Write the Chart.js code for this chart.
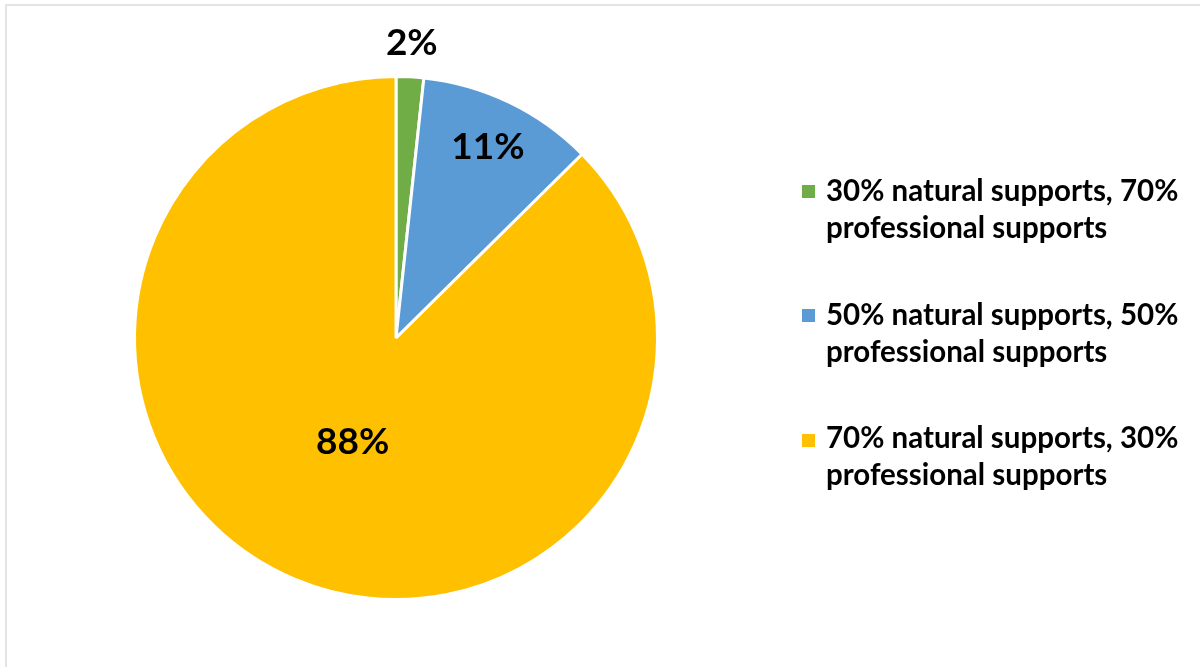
<!DOCTYPE html>
<html>
<head>
<meta charset="utf-8">
<script src="https://cdn.jsdelivr.net/npm/chart.js@4/dist/chart.umd.min.js"></script>
<style>
  html, body { margin: 0; padding: 0; background: #fff; }
  #wrap { position: relative; width: 1200px; height: 667px; overflow: hidden; }
  #frame { position: absolute; left: 5px; top: 4px; width: 1210px; height: 700px; border: 2px solid #e4e4e4; box-sizing: border-box; }
  #c { position: absolute; left: 0; top: 0; }
  .leg { position: absolute; left: 826px; font-family: Lato, "Open Sans", sans-serif; font-weight: 700; font-size: 29.5px; line-height: 37px; color: #000; white-space: nowrap; }
  .sw { position: absolute; left: 802px; width: 13px; height: 13px; }
</style>
</head>
<body>
<div id="wrap">
  <div id="frame"></div>
  <canvas id="c" width="1200" height="667"></canvas>
  <div id="legend"></div>
</div>
<script>
const categories = [
  "30% natural supports, 70% professional supports",
  "50% natural supports, 50% professional supports",
  "70% natural supports, 30% professional supports"
];
const legendLines = [
  ["30% natural supports, 70%", "professional supports"],
  ["50% natural supports, 50%", "professional supports"],
  ["70% natural supports, 30%", "professional supports"]
];
const values = [1.7, 10.9, 87.4];
const valueLabels = ["2%", "11%", "88%"];
const colors = ["#70AD47", "#5B9BD5", "#FFC000"];
const labelRadius = [1.13, 0.81, 0.43];

// HTML legend
const legendTops = [171, 295, 418];
const swatchTops = [185, 309, 434];
const legEl = document.getElementById('legend');
legendLines.forEach((lines, i) => {
  const sw = document.createElement('div');
  sw.className = 'sw';
  sw.style.top = swatchTops[i] + 'px';
  sw.style.background = colors[i];
  legEl.appendChild(sw);
  const t = document.createElement('div');
  t.className = 'leg';
  t.style.top = legendTops[i] + 'px';
  t.innerHTML = lines.join('<br>');
  legEl.appendChild(t);
});

const labelPlugin = {
  id: 'sliceLabels',
  afterDatasetsDraw(chart) {
    const ctx = chart.ctx;
    const meta = chart.getDatasetMeta(0);
    ctx.save();
    ctx.font = '700 37px Lato, "Open Sans", sans-serif';
    ctx.fillStyle = '#000';
    ctx.textAlign = 'center';
    ctx.textBaseline = 'middle';
    meta.data.forEach((arc, i) => {
      const p = arc.getProps(['x', 'y', 'startAngle', 'endAngle', 'outerRadius'], true);
      const mid = (p.startAngle + p.endAngle) / 2;
      const r = p.outerRadius * labelRadius[i];
      ctx.fillText(valueLabels[i], p.x + Math.cos(mid) * r, p.y + Math.sin(mid) * r);
    });
    ctx.restore();
  }
};

new Chart(document.getElementById('c'), {
  type: 'pie',
  data: {
    labels: categories,
    datasets: [{
      data: values,
      backgroundColor: colors,
      borderColor: '#ffffff',
      borderWidth: 3
    }]
  },
  options: {
    responsive: false,
    animation: false,
    layout: { padding: { left: 133, right: 541, top: 75, bottom: 66 } },
    plugins: { legend: { display: false }, tooltip: { enabled: false } }
  },
  plugins: [labelPlugin]
});
</script>
</body>
</html>
